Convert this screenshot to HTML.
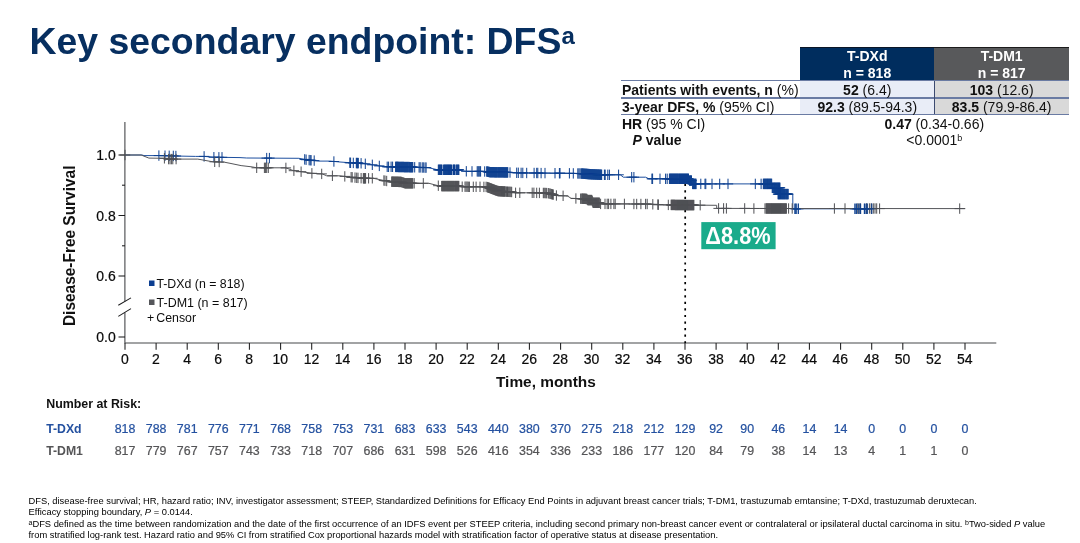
<!DOCTYPE html><html lang="en"><head><meta charset="utf-8"><title>Key secondary endpoint: DFS</title><style>
*{margin:0;padding:0;box-sizing:border-box}
html,body{width:1080px;height:543px;background:#fff;overflow:hidden}
body{font-family:"Liberation Sans",Arial,sans-serif;position:relative;color:#111}
.abs{position:absolute;white-space:nowrap}
h1{position:absolute;left:29.5px;top:18.7px;font-size:37.4px;line-height:44px;font-weight:bold;color:#072f60;white-space:nowrap;letter-spacing:0}
h1 sup{font-size:24px;vertical-align:baseline;position:relative;top:-10px}
.foot{position:absolute;left:28.5px;top:496.1px;font-size:9.34px;line-height:11.25px;color:#000;white-space:nowrap}
.foot sup{font-size:7px;vertical-align:baseline;position:relative;top:-2px}
.c{font-size:14px;line-height:16px;height:16px}
.c sup{font-size:9px;vertical-align:baseline;position:relative;top:-4.5px}

</style></head><body>
<h1>Key secondary endpoint: DFS<sup>a</sup></h1>
<div class="tbl">
<div class="abs" style="left:800.3px;top:47.3px;width:133.9px;height:33.6px;background:#002d5e;border-top:1.2px solid #0b1626"></div>
<div class="abs" style="left:934.2px;top:47.3px;width:134.9px;height:33.6px;background:#58595b;border-top:1.2px solid #1c1c1c"></div>
<div class="abs" style="left:800.3px;top:80.7px;width:133.9px;height:33.6px;background:#e9edf7"></div>
<div class="abs" style="left:934.2px;top:80.7px;width:134.9px;height:33.6px;background:#d9d9d9"></div>
<div class="abs" style="left:621px;top:80.10000000000001px;width:448.2px;height:1.2px;background:#6a7ba3"></div>
<div class="abs" style="left:621px;top:97.4px;width:448.2px;height:1.2px;background:#6a7ba3"></div>
<div class="abs" style="left:621px;top:113.80000000000001px;width:448.2px;height:1.2px;background:#6a7ba3"></div>
<div class="abs" style="left:933.7px;top:80.7px;width:1.1px;height:33.7px;background:#3c4a70"></div>
<div class="abs c" style="left:800.3px;top:48.33px;width:133.9px;text-align:center;color:#fff;"><b>T-DXd</b></div>
<div class="abs c" style="left:800.3px;top:65.03px;width:133.9px;text-align:center;color:#fff;"><b>n = 818</b></div>
<div class="abs c" style="left:934.2px;top:48.33px;width:134.9px;text-align:center;color:#fff;"><b>T-DM1</b></div>
<div class="abs c" style="left:934.2px;top:65.03px;width:134.9px;text-align:center;color:#fff;"><b>n = 817</b></div>
<div class="abs c" style="left:622px;top:81.63px;width:178px;text-align:left;color:#111;"><b>Patients with events, n</b> (%)</div>
<div class="abs c" style="left:800.3px;top:81.63px;width:133.9px;text-align:center;color:#111;"><b>52</b> (6.4)</div>
<div class="abs c" style="left:934.2px;top:81.63px;width:134.9px;text-align:center;color:#111;"><b>103</b> (12.6)</div>
<div class="abs c" style="left:622px;top:98.93px;width:178px;text-align:left;color:#111;"><b>3-year DFS, %</b> (95% CI)</div>
<div class="abs c" style="left:800.3px;top:98.93px;width:133.9px;text-align:center;color:#111;"><b>92.3</b> (89.5-94.3)</div>
<div class="abs c" style="left:934.2px;top:98.93px;width:134.9px;text-align:center;color:#111;"><b>83.5</b> (79.9-86.4)</div>
<div class="abs c" style="left:622px;top:115.63px;width:178px;text-align:left;color:#111;"><b>HR</b> (95 % CI)</div>
<div class="abs c" style="left:800.3px;top:115.63px;width:268px;text-align:center;color:#111;"><b>0.47</b> (0.34-0.66)</div>
<div class="abs c" style="left:632.5px;top:132.33px;width:168px;text-align:left;color:#111;"><b><i>P</i> value</b></div>
<div class="abs c" style="left:800.3px;top:132.33px;width:268px;text-align:center;color:#111;">&lt;0.0001<sup>b</sup></div>
</div>
<svg class="abs" style="left:0;top:0" width="1080" height="543" viewBox="0 0 1080 543" font-family="Liberation Sans, Arial, sans-serif">
<g stroke="#47484b" stroke-width="1.1" fill="none">
<path d="M124.9 122V301.5 M124.9 312.5V343.0 M124.4 343.0H996.3"/>
</g>
<g stroke="#1c1c1e" stroke-width="1.05" fill="none">
<path d="M118.5 155.0H125"/>
<path d="M122 185.2H125"/>
<path d="M118.5 215.5H125"/>
<path d="M122 245.8H125"/>
<path d="M118.5 276.0H125"/>
<path d="M118.5 337H125"/>
<path d="M118.3 305.2L131 297.9 M118.3 316.4L131 308.6"/>
<path d="M125.0 343.0V349.7"/>
<path d="M156.1 343.0V349.7"/>
<path d="M187.2 343.0V349.7"/>
<path d="M218.3 343.0V349.7"/>
<path d="M249.4 343.0V349.7"/>
<path d="M280.6 343.0V349.7"/>
<path d="M311.7 343.0V349.7"/>
<path d="M342.8 343.0V349.7"/>
<path d="M373.9 343.0V349.7"/>
<path d="M405.0 343.0V349.7"/>
<path d="M436.1 343.0V349.7"/>
<path d="M467.2 343.0V349.7"/>
<path d="M498.3 343.0V349.7"/>
<path d="M529.4 343.0V349.7"/>
<path d="M560.6 343.0V349.7"/>
<path d="M591.7 343.0V349.7"/>
<path d="M622.8 343.0V349.7"/>
<path d="M653.9 343.0V349.7"/>
<path d="M685.0 343.0V349.7"/>
<path d="M716.1 343.0V349.7"/>
<path d="M747.2 343.0V349.7"/>
<path d="M778.3 343.0V349.7"/>
<path d="M809.4 343.0V349.7"/>
<path d="M840.6 343.0V349.7"/>
<path d="M871.7 343.0V349.7"/>
<path d="M902.8 343.0V349.7"/>
<path d="M933.9 343.0V349.7"/>
<path d="M965.0 343.0V349.7"/>
</g>
<g font-size="14" fill="#0a0a0a" stroke="#0a0a0a" stroke-width="0.2">
<text transform="translate(115.80 160.20) scale(1.0 1.05)" text-anchor="end">1.0</text>
<text transform="translate(115.80 220.70) scale(1.0 1.05)" text-anchor="end">0.8</text>
<text transform="translate(115.80 281.20) scale(1.0 1.05)" text-anchor="end">0.6</text>
<text transform="translate(115.80 342.20) scale(1.0 1.05)" text-anchor="end">0.0</text>
<text transform="translate(124.80 364.20) scale(1.0 1.04)" text-anchor="middle">0</text>
<text transform="translate(155.91 364.20) scale(1.0 1.04)" text-anchor="middle">2</text>
<text transform="translate(187.02 364.20) scale(1.0 1.04)" text-anchor="middle">4</text>
<text transform="translate(218.13 364.20) scale(1.0 1.04)" text-anchor="middle">6</text>
<text transform="translate(249.24 364.20) scale(1.0 1.04)" text-anchor="middle">8</text>
<text transform="translate(280.36 364.20) scale(1.0 1.04)" text-anchor="middle">10</text>
<text transform="translate(311.47 364.20) scale(1.0 1.04)" text-anchor="middle">12</text>
<text transform="translate(342.58 364.20) scale(1.0 1.04)" text-anchor="middle">14</text>
<text transform="translate(373.69 364.20) scale(1.0 1.04)" text-anchor="middle">16</text>
<text transform="translate(404.80 364.20) scale(1.0 1.04)" text-anchor="middle">18</text>
<text transform="translate(435.91 364.20) scale(1.0 1.04)" text-anchor="middle">20</text>
<text transform="translate(467.02 364.20) scale(1.0 1.04)" text-anchor="middle">22</text>
<text transform="translate(498.13 364.20) scale(1.0 1.04)" text-anchor="middle">24</text>
<text transform="translate(529.24 364.20) scale(1.0 1.04)" text-anchor="middle">26</text>
<text transform="translate(560.36 364.20) scale(1.0 1.04)" text-anchor="middle">28</text>
<text transform="translate(591.47 364.20) scale(1.0 1.04)" text-anchor="middle">30</text>
<text transform="translate(622.58 364.20) scale(1.0 1.04)" text-anchor="middle">32</text>
<text transform="translate(653.69 364.20) scale(1.0 1.04)" text-anchor="middle">34</text>
<text transform="translate(684.80 364.20) scale(1.0 1.04)" text-anchor="middle">36</text>
<text transform="translate(715.91 364.20) scale(1.0 1.04)" text-anchor="middle">38</text>
<text transform="translate(747.02 364.20) scale(1.0 1.04)" text-anchor="middle">40</text>
<text transform="translate(778.13 364.20) scale(1.0 1.04)" text-anchor="middle">42</text>
<text transform="translate(809.24 364.20) scale(1.0 1.04)" text-anchor="middle">44</text>
<text transform="translate(840.36 364.20) scale(1.0 1.04)" text-anchor="middle">46</text>
<text transform="translate(871.47 364.20) scale(1.0 1.04)" text-anchor="middle">48</text>
<text transform="translate(902.58 364.20) scale(1.0 1.04)" text-anchor="middle">50</text>
<text transform="translate(933.69 364.20) scale(1.0 1.04)" text-anchor="middle">52</text>
<text transform="translate(964.80 364.20) scale(1.0 1.04)" text-anchor="middle">54</text>
</g>
<text x="545.9" y="386.5" text-anchor="middle" font-size="15.4" font-weight="bold" fill="#111">Time, months</text>
<text transform="translate(75.2 245.8) rotate(-90) scale(1 1.07)" text-anchor="middle" font-size="15.45" font-weight="bold" fill="#111">Disease-Free Survival</text>
<rect x="149" y="280.5" width="5.5" height="5.5" fill="#0b3e91"/>
<rect x="149" y="299.5" width="5.5" height="5.5" fill="#55565a"/>
<g font-size="12.35" fill="#0d0d0d"><text transform="translate(156.40 287.70) scale(1 1.08)" text-anchor="start">T-DXd (n = 818)</text><text transform="translate(156.60 306.50) scale(1.01 1.08)" text-anchor="start">T-DM1 (n = 817)</text><text transform="translate(147.00 322.00) scale(1.0 1.0)" text-anchor="start">+</text><text transform="translate(156.30 322.30) scale(1.0 1.08)" text-anchor="start">Censor</text></g>
<path d="M685.2 183.7V343" stroke="#000" stroke-width="1.7" stroke-dasharray="2.2 4.36" fill="none"/>
<rect x="701.3" y="222.1" width="74.3" height="27.1" fill="#1aab8b"/>
<text transform="translate(738 244.3) scale(1 1.12)" text-anchor="middle" font-size="21.8" font-weight="bold" fill="#fff">Δ8.8%</text>
<g id="km-curves">
<path d="M125.0 155.0 L142.2 155.0 L144.0 155.6 L158.9 155.6 L180.0 156.1 L195.6 156.4 L204.4 156.4 L213.3 157.2 L240.0 157.6 L246.7 158.0 L298.9 158.3 L307.8 160.0 L318.9 161.1 L330.0 161.1 L340.0 162.0 L351.1 162.8 L362.2 163.3 L373.3 165.0 L384.4 166.7 L395.6 166.9 L412.2 167.2 L426.7 167.6 L428.9 167.8 L437.8 169.8 L458.9 169.8 L463.3 170.9 L466.7 171.3 L486.7 171.5 L490.0 172.2 L507.8 172.4 L520.0 172.9 L570.0 173.3 L582.2 173.6 L590.0 174.2 L602.2 174.8 L620.0 174.8 L620.6 175.0 L623.3 177.2 L645.6 177.2 L648.9 178.8 L688.5 178.8 L689.5 180.6 L691.5 180.6 L692.6 183.9 L771.9 183.9 L771.9 187.8 L776.0 187.8 L776.0 194.1 L792.8 194.1 L792.8 208.8 L872.5 208.8" fill="none" stroke="#1d4f9f" stroke-width="1.0" stroke-linejoin="round"/>
<path d="M158.9 150.4v10.4M153.7 155.6h10.4M165.0 150.5v10.4M159.8 155.7h10.4M169.2 150.6v10.4M164.0 155.8h10.4M173.3 150.7v10.4M168.1 155.9h10.4M175.9 150.8v10.4M170.7 156.0h10.4M204.1 151.2v10.4M198.9 156.4h10.4M213.9 152.0v10.4M208.7 157.2h10.4M218.9 152.1v10.4M213.7 157.3h10.4M222.0 152.1v10.4M216.8 157.3h10.4M266.7 152.9v10.4M261.5 158.1h10.4M269.4 152.9v10.4M264.2 158.1h10.4M304.7 154.2v10.4M299.5 159.4h10.4M306.1 154.5v10.4M300.9 159.7h10.4M309.1 154.9v10.4M303.9 160.1h10.4M310.2 155.0v10.4M305.0 160.2h10.4M311.1 155.1v10.4M305.9 160.3h10.4M314.2 155.4v10.4M309.0 160.6h10.4M333.9 156.3v10.4M328.7 161.5h10.4M349.8 157.5v10.4M344.6 162.7h10.4M350.6 157.6v10.4M345.4 162.8h10.4M353.3 157.7v10.4M348.1 162.9h10.4M356.3 157.8v10.4M351.1 163.0h10.4M356.8 157.9v10.4M351.6 163.1h10.4M357.3 157.9v10.4M352.1 163.1h10.4M357.8 157.9v10.4M352.6 163.1h10.4M358.3 157.9v10.4M353.1 163.1h10.4M361.1 158.1v10.4M355.9 163.3h10.4M365.3 158.6v10.4M360.1 163.8h10.4M372.3 159.6v10.4M367.1 164.8h10.4M379.3 160.7v10.4M374.1 165.9h10.4M387.2 161.6v10.4M382.0 166.8h10.4M388.6 161.6v10.4M383.4 166.8h10.4M391.1 161.6v10.4M385.9 166.8h10.4M392.6 161.6v10.4M387.4 166.8h10.4M395.6 161.7v10.4M390.4 166.9h10.4M396.1 161.7v10.4M390.9 166.9h10.4M396.6 161.7v10.4M391.4 166.9h10.4M397.1 161.7v10.4M391.9 166.9h10.4M397.6 161.7v10.4M392.4 166.9h10.4M398.1 161.7v10.4M392.9 166.9h10.4M398.6 161.8v10.4M393.4 167.0h10.4M399.1 161.8v10.4M393.9 167.0h10.4M399.6 161.8v10.4M394.4 167.0h10.4M400.2 161.8v10.4M395.0 167.0h10.4M400.7 161.8v10.4M395.5 167.0h10.4M401.2 161.8v10.4M396.0 167.0h10.4M401.7 161.8v10.4M396.5 167.0h10.4M402.2 161.8v10.4M397.0 167.0h10.4M402.7 161.8v10.4M397.5 167.0h10.4M403.2 161.8v10.4M398.0 167.0h10.4M403.7 161.8v10.4M398.5 167.0h10.4M404.2 161.9v10.4M399.0 167.1h10.4M404.7 161.9v10.4M399.5 167.1h10.4M405.2 161.9v10.4M400.0 167.1h10.4M405.7 161.9v10.4M400.5 167.1h10.4M406.2 161.9v10.4M401.0 167.1h10.4M406.7 161.9v10.4M401.5 167.1h10.4M407.2 161.9v10.4M402.0 167.1h10.4M407.7 161.9v10.4M402.5 167.1h10.4M408.2 161.9v10.4M403.0 167.1h10.4M408.8 161.9v10.4M403.6 167.1h10.4M409.3 161.9v10.4M404.1 167.1h10.4M409.8 162.0v10.4M404.6 167.2h10.4M410.3 162.0v10.4M405.1 167.2h10.4M410.8 162.0v10.4M405.6 167.2h10.4M411.3 162.0v10.4M406.1 167.2h10.4M411.8 162.0v10.4M406.6 167.2h10.4M412.3 162.0v10.4M407.1 167.2h10.4M412.8 162.0v10.4M407.6 167.2h10.4M414.7 162.1v10.4M409.5 167.3h10.4M419.1 162.2v10.4M413.9 167.4h10.4M420.2 162.2v10.4M415.0 167.4h10.4M422.2 162.3v10.4M417.0 167.5h10.4M423.3 162.3v10.4M418.1 167.5h10.4M425.0 162.4v10.4M419.8 167.6h10.4M426.1 162.4v10.4M420.9 167.6h10.4M438.3 164.6v10.4M433.1 169.8h10.4M438.8 164.6v10.4M433.6 169.8h10.4M439.4 164.6v10.4M434.2 169.8h10.4M439.9 164.6v10.4M434.7 169.8h10.4M440.4 164.6v10.4M435.2 169.8h10.4M440.9 164.6v10.4M435.7 169.8h10.4M441.5 164.6v10.4M436.3 169.8h10.4M442.0 164.6v10.4M436.8 169.8h10.4M443.6 164.6v10.4M438.4 169.8h10.4M444.1 164.6v10.4M438.9 169.8h10.4M444.6 164.6v10.4M439.4 169.8h10.4M445.1 164.6v10.4M439.9 169.8h10.4M445.6 164.6v10.4M440.4 169.8h10.4M446.1 164.6v10.4M440.9 169.8h10.4M446.6 164.6v10.4M441.4 169.8h10.4M447.1 164.6v10.4M441.9 169.8h10.4M447.6 164.6v10.4M442.4 169.8h10.4M448.0 164.6v10.4M442.8 169.8h10.4M448.5 164.6v10.4M443.3 169.8h10.4M449.0 164.6v10.4M443.8 169.8h10.4M449.5 164.6v10.4M444.3 169.8h10.4M450.0 164.6v10.4M444.8 169.8h10.4M450.5 164.6v10.4M445.3 169.8h10.4M451.0 164.6v10.4M445.8 169.8h10.4M451.5 164.6v10.4M446.3 169.8h10.4M453.0 164.6v10.4M447.8 169.8h10.4M453.5 164.6v10.4M448.3 169.8h10.4M454.0 164.6v10.4M448.8 169.8h10.4M454.5 164.6v10.4M449.3 169.8h10.4M455.0 164.6v10.4M449.8 169.8h10.4M456.3 164.6v10.4M451.1 169.8h10.4M456.8 164.6v10.4M451.6 169.8h10.4M457.3 164.6v10.4M452.1 169.8h10.4M457.9 164.6v10.4M452.7 169.8h10.4M458.4 164.6v10.4M453.2 169.8h10.4M458.9 164.6v10.4M453.7 169.8h10.4M466.3 166.1v10.4M461.1 171.3h10.4M472.0 166.2v10.4M466.8 171.4h10.4M477.2 166.2v10.4M472.0 171.4h10.4M478.1 166.2v10.4M472.9 171.4h10.4M478.9 166.2v10.4M473.7 171.4h10.4M479.8 166.2v10.4M474.6 171.4h10.4M480.6 166.2v10.4M475.4 171.4h10.4M484.7 166.3v10.4M479.5 171.5h10.4M486.7 166.3v10.4M481.5 171.5h10.4M487.2 166.4v10.4M482.0 171.6h10.4M487.7 166.5v10.4M482.5 171.7h10.4M488.2 166.6v10.4M483.0 171.8h10.4M488.7 166.7v10.4M483.5 171.9h10.4M489.2 166.8v10.4M484.0 172.0h10.4M489.7 166.9v10.4M484.5 172.1h10.4M490.2 167.0v10.4M485.0 172.2h10.4M490.7 167.0v10.4M485.5 172.2h10.4M491.2 167.0v10.4M486.0 172.2h10.4M491.7 167.0v10.4M486.5 172.2h10.4M492.2 167.0v10.4M487.0 172.2h10.4M492.7 167.0v10.4M487.5 172.2h10.4M493.2 167.0v10.4M488.0 172.2h10.4M493.7 167.0v10.4M488.5 172.2h10.4M494.2 167.0v10.4M489.0 172.2h10.4M494.7 167.1v10.4M489.5 172.3h10.4M495.2 167.1v10.4M490.0 172.3h10.4M495.7 167.1v10.4M490.5 172.3h10.4M496.2 167.1v10.4M491.0 172.3h10.4M496.7 167.1v10.4M491.5 172.3h10.4M497.2 167.1v10.4M492.1 172.3h10.4M497.8 167.1v10.4M492.6 172.3h10.4M498.3 167.1v10.4M493.1 172.3h10.4M498.8 167.1v10.4M493.6 172.3h10.4M499.3 167.1v10.4M494.1 172.3h10.4M499.8 167.1v10.4M494.6 172.3h10.4M500.3 167.1v10.4M495.1 172.3h10.4M500.8 167.1v10.4M495.6 172.3h10.4M501.3 167.1v10.4M496.1 172.3h10.4M501.8 167.1v10.4M496.6 172.3h10.4M502.3 167.1v10.4M497.1 172.3h10.4M502.8 167.1v10.4M497.6 172.3h10.4M503.3 167.1v10.4M498.1 172.3h10.4M503.8 167.2v10.4M498.6 172.4h10.4M504.3 167.2v10.4M499.1 172.4h10.4M504.8 167.2v10.4M499.6 172.4h10.4M505.3 167.2v10.4M500.1 172.4h10.4M505.8 167.2v10.4M500.6 172.4h10.4M506.3 167.2v10.4M501.1 172.4h10.4M506.8 167.2v10.4M501.6 172.4h10.4M507.3 167.2v10.4M502.1 172.4h10.4M507.8 167.2v10.4M502.6 172.4h10.4M510.0 167.3v10.4M504.8 172.5h10.4M516.7 167.6v10.4M511.5 172.8h10.4M518.3 167.6v10.4M513.1 172.8h10.4M521.1 167.7v10.4M515.9 172.9h10.4M522.8 167.7v10.4M517.6 172.9h10.4M526.7 167.8v10.4M521.5 173.0h10.4M534.1 167.8v10.4M528.9 173.0h10.4M536.7 167.8v10.4M531.5 173.0h10.4M537.8 167.8v10.4M532.6 173.0h10.4M541.1 167.9v10.4M535.9 173.1h10.4M545.0 167.9v10.4M539.8 173.1h10.4M555.0 168.0v10.4M549.8 173.2h10.4M559.4 168.0v10.4M554.2 173.2h10.4M569.4 168.1v10.4M564.2 173.3h10.4M560.0 168.0v10.4M554.8 173.2h10.4M573.3 168.2v10.4M568.1 173.4h10.4M577.8 168.3v10.4M572.6 173.5h10.4M578.9 168.3v10.4M573.7 173.5h10.4M580.0 168.3v10.4M574.8 173.5h10.4M581.1 168.4v10.4M575.9 173.6h10.4M581.7 168.4v10.4M576.5 173.6h10.4M582.2 168.4v10.4M577.0 173.6h10.4M582.7 168.4v10.4M577.5 173.6h10.4M583.2 168.5v10.4M578.0 173.7h10.4M583.7 168.5v10.4M578.5 173.7h10.4M584.2 168.6v10.4M579.0 173.8h10.4M584.7 168.6v10.4M579.5 173.8h10.4M585.2 168.6v10.4M580.0 173.8h10.4M585.7 168.7v10.4M580.5 173.9h10.4M586.2 168.7v10.4M581.0 173.9h10.4M586.7 168.7v10.4M581.5 173.9h10.4M587.2 168.8v10.4M582.0 174.0h10.4M587.7 168.8v10.4M582.5 174.0h10.4M588.2 168.9v10.4M583.0 174.1h10.4M588.7 168.9v10.4M583.5 174.1h10.4M589.2 168.9v10.4M584.0 174.1h10.4M589.7 169.0v10.4M584.5 174.2h10.4M590.2 169.0v10.4M585.0 174.2h10.4M590.7 169.0v10.4M585.5 174.2h10.4M591.2 169.1v10.4M586.0 174.3h10.4M591.7 169.1v10.4M586.5 174.3h10.4M592.2 169.1v10.4M587.0 174.3h10.4M592.7 169.1v10.4M587.5 174.3h10.4M593.2 169.2v10.4M588.0 174.4h10.4M593.7 169.2v10.4M588.5 174.4h10.4M594.2 169.2v10.4M589.0 174.4h10.4M594.7 169.2v10.4M589.5 174.4h10.4M595.2 169.3v10.4M590.0 174.5h10.4M595.7 169.3v10.4M590.5 174.5h10.4M596.2 169.3v10.4M591.0 174.5h10.4M596.7 169.3v10.4M591.5 174.5h10.4M597.2 169.4v10.4M592.0 174.6h10.4M597.7 169.4v10.4M592.5 174.6h10.4M598.2 169.4v10.4M593.0 174.6h10.4M598.7 169.4v10.4M593.5 174.6h10.4M599.2 169.5v10.4M594.0 174.7h10.4M599.7 169.5v10.4M594.5 174.7h10.4M600.2 169.5v10.4M595.0 174.7h10.4M600.7 169.5v10.4M595.5 174.7h10.4M601.2 169.6v10.4M596.0 174.8h10.4M601.7 169.6v10.4M596.5 174.8h10.4M604.4 169.6v10.4M599.2 174.8h10.4M605.2 169.6v10.4M600.0 174.8h10.4M607.8 169.6v10.4M602.6 174.8h10.4M609.4 169.6v10.4M604.2 174.8h10.4M618.6 169.6v10.4M613.4 174.8h10.4M631.7 172.0v10.4M626.5 177.2h10.4M633.9 172.0v10.4M628.7 177.2h10.4M651.9 173.6v10.4M646.7 178.8h10.4M652.6 173.6v10.4M647.4 178.8h10.4M660.0 173.6v10.4M654.8 178.8h10.4M665.6 173.6v10.4M660.4 178.8h10.4M667.2 173.6v10.4M662.0 178.8h10.4M669.4 173.6v10.4M664.2 178.8h10.4M669.9 173.6v10.4M664.7 178.8h10.4M670.4 173.6v10.4M665.2 178.8h10.4M670.9 173.6v10.4M665.7 178.8h10.4M671.4 173.6v10.4M666.2 178.8h10.4M671.9 173.6v10.4M666.7 178.8h10.4M672.4 173.6v10.4M667.2 178.8h10.4M672.9 173.6v10.4M667.7 178.8h10.4M673.4 173.6v10.4M668.2 178.8h10.4M673.9 173.6v10.4M668.7 178.8h10.4M674.4 173.6v10.4M669.2 178.8h10.4M674.9 173.6v10.4M669.7 178.8h10.4M675.4 173.6v10.4M670.2 178.8h10.4M675.9 173.6v10.4M670.7 178.8h10.4M676.4 173.6v10.4M671.2 178.8h10.4M676.9 173.6v10.4M671.7 178.8h10.4M677.4 173.6v10.4M672.2 178.8h10.4M677.9 173.6v10.4M672.7 178.8h10.4M678.4 173.6v10.4M673.2 178.8h10.4M679.0 173.6v10.4M673.8 178.8h10.4M679.5 173.6v10.4M674.3 178.8h10.4M680.0 173.6v10.4M674.8 178.8h10.4M680.5 173.6v10.4M675.3 178.8h10.4M681.0 173.6v10.4M675.8 178.8h10.4M681.5 173.6v10.4M676.3 178.8h10.4M682.0 173.6v10.4M676.8 178.8h10.4M682.5 173.6v10.4M677.3 178.8h10.4M683.0 173.6v10.4M677.8 178.8h10.4M683.5 173.6v10.4M678.3 178.8h10.4M684.0 173.6v10.4M678.8 178.8h10.4M684.5 173.6v10.4M679.3 178.8h10.4M685.0 173.6v10.4M679.8 178.8h10.4M685.5 173.6v10.4M680.3 178.8h10.4M686.0 173.6v10.4M680.8 178.8h10.4M686.5 173.6v10.4M681.3 178.8h10.4M687.0 173.6v10.4M681.8 178.8h10.4M687.5 173.6v10.4M682.3 178.8h10.4M688.0 173.6v10.4M682.8 178.8h10.4M688.5 173.6v10.4M683.3 178.8h10.4M689.5 175.4v10.4M684.3 180.6h10.4M690.0 175.4v10.4M684.8 180.6h10.4M690.5 175.4v10.4M685.3 180.6h10.4M691.0 175.4v10.4M685.8 180.6h10.4M691.5 175.4v10.4M686.3 180.6h10.4M692.6 178.7v10.4M687.4 183.9h10.4M693.1 178.7v10.4M687.9 183.9h10.4M693.6 178.7v10.4M688.4 183.9h10.4M694.1 178.7v10.4M688.9 183.9h10.4M694.6 178.7v10.4M689.4 183.9h10.4M695.1 178.7v10.4M689.9 183.9h10.4M695.6 178.7v10.4M690.4 183.9h10.4M696.1 178.7v10.4M690.9 183.9h10.4M700.8 178.7v10.4M695.6 183.9h10.4M705.0 178.7v10.4M699.8 183.9h10.4M705.8 178.7v10.4M700.6 183.9h10.4M712.0 178.7v10.4M706.8 183.9h10.4M719.7 178.7v10.4M714.5 183.9h10.4M728.0 178.7v10.4M722.8 183.9h10.4M755.3 178.7v10.4M750.1 183.9h10.4M761.1 178.7v10.4M755.9 183.9h10.4M763.3 178.7v10.4M758.1 183.9h10.4M763.8 178.7v10.4M758.6 183.9h10.4M764.3 178.7v10.4M759.1 183.9h10.4M764.8 178.7v10.4M759.6 183.9h10.4M765.3 178.7v10.4M760.1 183.9h10.4M765.8 178.7v10.4M760.6 183.9h10.4M766.3 178.7v10.4M761.1 183.9h10.4M766.8 178.7v10.4M761.6 183.9h10.4M767.3 178.7v10.4M762.1 183.9h10.4M767.7 178.7v10.4M762.5 183.9h10.4M768.2 178.7v10.4M763.0 183.9h10.4M768.7 178.7v10.4M763.5 183.9h10.4M769.2 178.7v10.4M764.0 183.9h10.4M769.7 178.7v10.4M764.5 183.9h10.4M770.2 178.7v10.4M765.0 183.9h10.4M770.7 178.7v10.4M765.5 183.9h10.4M771.2 178.7v10.4M766.0 183.9h10.4M771.7 178.7v10.4M766.5 183.9h10.4M772.2 182.6v10.4M767.0 187.8h10.4M772.7 182.6v10.4M767.5 187.8h10.4M773.2 182.6v10.4M768.0 187.8h10.4M773.7 182.6v10.4M768.5 187.8h10.4M774.2 182.6v10.4M769.0 187.8h10.4M774.6 182.6v10.4M769.4 187.8h10.4M775.1 182.6v10.4M769.9 187.8h10.4M775.6 182.6v10.4M770.4 187.8h10.4M776.1 182.6v10.4M770.9 187.8h10.4M776.6 182.6v10.4M771.4 187.8h10.4M777.1 182.6v10.4M771.9 187.8h10.4M777.6 182.6v10.4M772.4 187.8h10.4M778.0 182.6v10.4M772.8 187.8h10.4M778.5 182.6v10.4M773.3 187.8h10.4M779.0 182.6v10.4M773.8 187.8h10.4M779.5 182.6v10.4M774.3 187.8h10.4M780.0 182.6v10.4M774.8 187.8h10.4M778.0 188.9v10.4M772.8 194.1h10.4M778.5 188.9v10.4M773.3 194.1h10.4M779.0 188.9v10.4M773.8 194.1h10.4M779.5 188.9v10.4M774.3 194.1h10.4M780.0 188.9v10.4M774.8 194.1h10.4M780.5 188.9v10.4M775.3 194.1h10.4M781.1 188.9v10.4M775.9 194.1h10.4M781.6 188.9v10.4M776.4 194.1h10.4M782.1 188.9v10.4M776.9 194.1h10.4M782.6 188.9v10.4M777.4 194.1h10.4M783.1 188.9v10.4M777.9 194.1h10.4M783.6 188.9v10.4M778.4 194.1h10.4M784.1 188.9v10.4M778.9 194.1h10.4M784.6 188.9v10.4M779.4 194.1h10.4M785.1 188.9v10.4M779.9 194.1h10.4M785.7 188.9v10.4M780.5 194.1h10.4M786.2 188.9v10.4M781.0 194.1h10.4M786.7 188.9v10.4M781.5 194.1h10.4M787.2 188.9v10.4M782.0 194.1h10.4M787.7 188.9v10.4M782.5 194.1h10.4M788.2 188.9v10.4M783.0 194.1h10.4M795.0 203.6v10.4M789.8 208.8h10.4M796.1 203.6v10.4M790.9 208.8h10.4M798.3 203.6v10.4M793.1 208.8h10.4M855.0 203.6v10.4M849.8 208.8h10.4M856.7 203.6v10.4M851.5 208.8h10.4M858.9 203.6v10.4M853.7 208.8h10.4M860.6 203.6v10.4M855.4 208.8h10.4M864.4 203.6v10.4M859.2 208.8h10.4M866.1 203.6v10.4M860.9 208.8h10.4M867.2 203.6v10.4M862.0 208.8h10.4M871.7 203.6v10.4M866.5 208.8h10.4" fill="none" stroke="#0c3f8f" stroke-width="1.0"/>
<path d="M125.0 155.0 L141.1 155.0 L148.9 158.1 L164.4 158.3 L167.8 159.1 L197.8 159.1 L212.2 161.7 L224.4 162.2 L230.0 163.3 L241.1 165.6 L252.2 166.9 L256.7 167.8 L285.6 167.8 L293.3 170.6 L301.1 171.7 L312.2 173.3 L322.2 173.9 L326.7 175.8 L340.0 175.8 L351.1 177.2 L362.2 178.3 L373.3 178.3 L384.4 180.6 L391.1 181.7 L401.1 181.9 L405.0 183.3 L428.9 183.3 L437.8 185.6 L440.0 186.1 L458.9 186.1 L461.1 186.7 L486.7 186.9 L497.8 191.1 L512.2 192.0 L515.6 192.8 L532.2 192.8 L547.8 193.1 L556.7 195.6 L565.6 195.9 L567.8 196.2 L571.1 198.3 L586.7 198.9 L587.5 200.1 L592.0 200.1 L593.0 202.8 L599.4 202.8 L600.5 203.9 L648.9 204.0 L660.0 204.8 L680.0 205.0 L716.7 205.3 L716.7 208.4 L790.0 208.5 L965.3 208.6" fill="none" stroke="#55565a" stroke-width="1.0" stroke-linejoin="round"/>
<path d="M125.0 149.8v10.4M119.8 155.0h10.4M164.4 153.1v10.4M159.2 158.3h10.4M168.6 153.9v10.4M163.4 159.1h10.4M170.0 153.9v10.4M164.8 159.1h10.4M171.4 153.9v10.4M166.2 159.1h10.4M172.8 153.9v10.4M167.6 159.1h10.4M176.1 153.9v10.4M170.9 159.1h10.4M214.7 156.6v10.4M209.5 161.8h10.4M219.2 156.8v10.4M214.0 162.0h10.4M256.7 162.6v10.4M251.5 167.8h10.4M264.4 162.6v10.4M259.2 167.8h10.4M265.6 162.6v10.4M260.4 167.8h10.4M266.7 162.6v10.4M261.5 167.8h10.4M268.3 162.6v10.4M263.1 167.8h10.4M285.9 162.7v10.4M280.7 167.9h10.4M293.9 165.5v10.4M288.7 170.7h10.4M301.1 166.5v10.4M295.9 171.7h10.4M311.9 168.1v10.4M306.7 173.3h10.4M321.7 168.7v10.4M316.5 173.9h10.4M332.4 170.6v10.4M327.2 175.8h10.4M344.8 171.2v10.4M339.6 176.4h10.4M351.1 172.0v10.4M345.9 177.2h10.4M352.2 172.1v10.4M347.0 177.3h10.4M355.0 172.4v10.4M349.8 177.6h10.4M356.7 172.6v10.4M351.5 177.8h10.4M358.0 172.7v10.4M352.8 177.9h10.4M361.1 173.0v10.4M355.9 178.2h10.4M363.3 173.1v10.4M358.1 178.3h10.4M363.8 173.1v10.4M358.6 178.3h10.4M364.2 173.1v10.4M359.0 178.3h10.4M364.7 173.1v10.4M359.5 178.3h10.4M365.1 173.1v10.4M359.9 178.3h10.4M365.6 173.1v10.4M360.4 178.3h10.4M368.6 173.1v10.4M363.4 178.3h10.4M372.3 173.1v10.4M367.1 178.3h10.4M383.9 175.3v10.4M378.7 180.5h10.4M385.0 175.5v10.4M379.8 180.7h10.4M386.7 175.8v10.4M381.5 181.0h10.4M391.7 176.5v10.4M386.5 181.7h10.4M392.2 176.5v10.4M387.0 181.7h10.4M392.7 176.5v10.4M387.5 181.7h10.4M393.2 176.5v10.4M388.0 181.7h10.4M393.7 176.6v10.4M388.5 181.8h10.4M394.2 176.6v10.4M389.0 181.8h10.4M394.7 176.6v10.4M389.5 181.8h10.4M395.2 176.6v10.4M390.0 181.8h10.4M395.7 176.6v10.4M390.5 181.8h10.4M396.2 176.6v10.4M391.0 181.8h10.4M396.7 176.6v10.4M391.5 181.8h10.4M397.2 176.6v10.4M392.0 181.8h10.4M397.7 176.6v10.4M392.5 181.8h10.4M398.2 176.6v10.4M393.0 181.8h10.4M398.7 176.7v10.4M393.5 181.9h10.4M399.2 176.7v10.4M394.0 181.9h10.4M399.7 176.7v10.4M394.5 181.9h10.4M400.2 176.7v10.4M395.0 181.9h10.4M400.7 176.7v10.4M395.5 181.9h10.4M401.2 176.8v10.4M396.0 182.0h10.4M401.7 176.9v10.4M396.5 182.1h10.4M402.2 177.1v10.4M397.1 182.3h10.4M402.8 177.3v10.4M397.6 182.5h10.4M403.3 177.5v10.4M398.1 182.7h10.4M403.8 177.7v10.4M398.6 182.9h10.4M404.3 177.8v10.4M399.1 183.0h10.4M404.8 178.0v10.4M399.6 183.2h10.4M405.3 178.1v10.4M400.1 183.3h10.4M405.8 178.1v10.4M400.6 183.3h10.4M406.3 178.1v10.4M401.1 183.3h10.4M406.8 178.1v10.4M401.6 183.3h10.4M407.3 178.1v10.4M402.1 183.3h10.4M407.8 178.1v10.4M402.6 183.3h10.4M408.3 178.1v10.4M403.1 183.3h10.4M408.8 178.1v10.4M403.6 183.3h10.4M409.3 178.1v10.4M404.1 183.3h10.4M409.8 178.1v10.4M404.6 183.3h10.4M410.3 178.1v10.4M405.1 183.3h10.4M410.8 178.1v10.4M405.6 183.3h10.4M411.3 178.1v10.4M406.1 183.3h10.4M411.8 178.1v10.4M406.6 183.3h10.4M412.3 178.1v10.4M407.1 183.3h10.4M412.8 178.1v10.4M407.6 183.3h10.4M414.2 178.1v10.4M409.0 183.3h10.4M423.3 178.1v10.4M418.1 183.3h10.4M438.3 180.5v10.4M433.1 185.7h10.4M441.7 180.9v10.4M436.5 186.1h10.4M442.2 180.9v10.4M437.0 186.1h10.4M442.7 180.9v10.4M437.5 186.1h10.4M443.2 180.9v10.4M438.0 186.1h10.4M443.7 180.9v10.4M438.5 186.1h10.4M444.2 180.9v10.4M439.0 186.1h10.4M444.7 180.9v10.4M439.5 186.1h10.4M445.2 180.9v10.4M440.0 186.1h10.4M445.7 180.9v10.4M440.5 186.1h10.4M446.3 180.9v10.4M441.1 186.1h10.4M446.8 180.9v10.4M441.6 186.1h10.4M447.3 180.9v10.4M442.1 186.1h10.4M447.8 180.9v10.4M442.6 186.1h10.4M448.3 180.9v10.4M443.1 186.1h10.4M448.8 180.9v10.4M443.6 186.1h10.4M449.3 180.9v10.4M444.1 186.1h10.4M449.8 180.9v10.4M444.6 186.1h10.4M450.3 180.9v10.4M445.1 186.1h10.4M450.8 180.9v10.4M445.6 186.1h10.4M451.3 180.9v10.4M446.1 186.1h10.4M451.8 180.9v10.4M446.6 186.1h10.4M452.3 180.9v10.4M447.1 186.1h10.4M452.8 180.9v10.4M447.6 186.1h10.4M453.3 180.9v10.4M448.1 186.1h10.4M453.8 180.9v10.4M448.6 186.1h10.4M454.3 180.9v10.4M449.1 186.1h10.4M454.9 180.9v10.4M449.7 186.1h10.4M455.4 180.9v10.4M450.2 186.1h10.4M455.9 180.9v10.4M450.7 186.1h10.4M456.4 180.9v10.4M451.2 186.1h10.4M456.9 180.9v10.4M451.7 186.1h10.4M457.4 180.9v10.4M452.2 186.1h10.4M457.9 180.9v10.4M452.7 186.1h10.4M458.4 180.9v10.4M453.2 186.1h10.4M458.9 180.9v10.4M453.7 186.1h10.4M462.2 181.5v10.4M457.0 186.7h10.4M465.0 181.5v10.4M459.8 186.7h10.4M466.1 181.5v10.4M460.9 186.7h10.4M467.2 181.5v10.4M462.0 186.7h10.4M468.3 181.6v10.4M463.1 186.8h10.4M469.4 181.6v10.4M464.2 186.8h10.4M473.3 181.6v10.4M468.1 186.8h10.4M476.1 181.6v10.4M470.9 186.8h10.4M480.0 181.6v10.4M474.8 186.8h10.4M483.9 181.7v10.4M478.7 186.9h10.4M486.1 181.7v10.4M480.9 186.9h10.4M487.2 181.9v10.4M482.0 187.1h10.4M487.7 182.1v10.4M482.5 187.3h10.4M488.2 182.3v10.4M483.0 187.5h10.4M488.7 182.5v10.4M483.5 187.7h10.4M489.2 182.6v10.4M484.0 187.8h10.4M489.7 182.8v10.4M484.5 188.0h10.4M490.2 183.0v10.4M485.0 188.2h10.4M490.7 183.2v10.4M485.5 188.4h10.4M491.2 183.4v10.4M486.0 188.6h10.4M491.6 183.6v10.4M486.4 188.8h10.4M492.1 183.8v10.4M486.9 189.0h10.4M492.6 183.9v10.4M487.4 189.1h10.4M493.1 184.1v10.4M487.9 189.3h10.4M493.6 184.3v10.4M488.4 189.5h10.4M494.1 184.5v10.4M488.9 189.7h10.4M494.6 184.7v10.4M489.4 189.9h10.4M495.1 184.9v10.4M489.9 190.1h10.4M495.6 185.1v10.4M490.4 190.3h10.4M496.1 185.3v10.4M490.9 190.5h10.4M496.6 185.4v10.4M491.4 190.6h10.4M497.1 185.6v10.4M491.9 190.8h10.4M497.6 185.8v10.4M492.4 191.0h10.4M498.1 185.9v10.4M492.9 191.1h10.4M498.6 185.9v10.4M493.4 191.1h10.4M499.1 186.0v10.4M493.9 191.2h10.4M499.6 186.0v10.4M494.4 191.2h10.4M500.1 186.0v10.4M494.9 191.2h10.4M500.6 186.1v10.4M495.4 191.3h10.4M501.0 186.1v10.4M495.8 191.3h10.4M501.5 186.1v10.4M496.3 191.3h10.4M502.0 186.2v10.4M496.8 191.4h10.4M502.5 186.2v10.4M497.3 191.4h10.4M503.0 186.2v10.4M497.8 191.4h10.4M503.5 186.3v10.4M498.3 191.5h10.4M504.0 186.3v10.4M498.8 191.5h10.4M504.5 186.3v10.4M499.3 191.5h10.4M505.0 186.3v10.4M499.8 191.5h10.4M505.8 186.4v10.4M500.6 191.6h10.4M506.6 186.5v10.4M501.4 191.7h10.4M507.5 186.5v10.4M502.3 191.7h10.4M508.3 186.6v10.4M503.1 191.8h10.4M509.2 186.6v10.4M504.0 191.8h10.4M510.0 186.7v10.4M504.8 191.9h10.4M510.9 186.7v10.4M505.7 191.9h10.4M511.7 186.8v10.4M506.5 192.0h10.4M515.6 187.6v10.4M510.4 192.8h10.4M519.8 187.6v10.4M514.6 192.8h10.4M532.2 187.6v10.4M527.0 192.8h10.4M533.9 187.6v10.4M528.7 192.8h10.4M536.7 187.7v10.4M531.5 192.9h10.4M539.4 187.7v10.4M534.2 192.9h10.4M543.3 187.8v10.4M538.1 193.0h10.4M544.1 187.8v10.4M538.9 193.0h10.4M545.0 187.8v10.4M539.8 193.0h10.4M545.9 187.9v10.4M540.6 193.1h10.4M546.7 187.9v10.4M541.5 193.1h10.4M548.3 188.0v10.4M543.1 193.2h10.4M549.1 188.3v10.4M543.9 193.5h10.4M550.0 188.5v10.4M544.8 193.7h10.4M550.8 188.7v10.4M545.6 193.9h10.4M551.6 189.0v10.4M546.4 194.2h10.4M552.5 189.2v10.4M547.3 194.4h10.4M553.3 189.4v10.4M548.1 194.6h10.4M556.4 190.3v10.4M551.2 195.5h10.4M563.1 190.6v10.4M557.9 195.8h10.4M575.9 193.3v10.4M570.7 198.5h10.4M580.6 193.5v10.4M575.4 198.7h10.4M581.7 193.5v10.4M576.5 198.7h10.4M582.2 193.5v10.4M577.0 198.7h10.4M582.7 193.5v10.4M577.5 198.7h10.4M583.2 193.6v10.4M578.0 198.8h10.4M583.7 193.6v10.4M578.5 198.8h10.4M584.2 193.6v10.4M579.0 198.8h10.4M584.7 193.6v10.4M579.5 198.8h10.4M585.2 193.6v10.4M580.0 198.8h10.4M585.7 193.7v10.4M580.5 198.9h10.4M586.3 193.7v10.4M581.1 198.9h10.4M586.8 193.8v10.4M581.6 199.0h10.4M587.3 194.5v10.4M582.1 199.7h10.4M587.8 194.9v10.4M582.6 200.1h10.4M588.3 194.9v10.4M583.1 200.1h10.4M588.8 194.9v10.4M583.6 200.1h10.4M589.3 194.9v10.4M584.1 200.1h10.4M589.8 194.9v10.4M584.6 200.1h10.4M590.3 194.9v10.4M585.1 200.1h10.4M590.8 194.9v10.4M585.6 200.1h10.4M591.3 194.9v10.4M586.1 200.1h10.4M591.8 194.9v10.4M586.6 200.1h10.4M592.3 195.8v10.4M587.1 201.0h10.4M592.8 197.1v10.4M587.6 202.3h10.4M593.3 197.6v10.4M588.1 202.8h10.4M593.8 197.6v10.4M588.6 202.8h10.4M594.3 197.6v10.4M589.1 202.8h10.4M594.8 197.6v10.4M589.6 202.8h10.4M595.4 197.6v10.4M590.2 202.8h10.4M595.9 197.6v10.4M590.7 202.8h10.4M596.4 197.6v10.4M591.2 202.8h10.4M596.9 197.6v10.4M591.7 202.8h10.4M597.4 197.6v10.4M592.2 202.8h10.4M597.9 197.6v10.4M592.7 202.8h10.4M598.4 197.6v10.4M593.2 202.8h10.4M598.9 197.6v10.4M593.7 202.8h10.4M599.4 197.6v10.4M594.2 202.8h10.4M600.6 198.7v10.4M595.4 203.9h10.4M605.0 198.7v10.4M599.8 203.9h10.4M607.2 198.7v10.4M602.0 203.9h10.4M608.6 198.7v10.4M603.4 203.9h10.4M610.9 198.7v10.4M605.7 203.9h10.4M613.9 198.7v10.4M608.7 203.9h10.4M615.2 198.7v10.4M610.0 203.9h10.4M624.4 198.7v10.4M619.2 203.9h10.4M633.9 198.8v10.4M628.7 204.0h10.4M636.7 198.8v10.4M631.5 204.0h10.4M640.9 198.8v10.4M635.7 204.0h10.4M645.6 198.8v10.4M640.4 204.0h10.4M647.2 198.8v10.4M642.0 204.0h10.4M652.8 199.1v10.4M647.6 204.3h10.4M657.8 199.4v10.4M652.6 204.6h10.4M658.4 199.5v10.4M653.2 204.7h10.4M668.3 199.7v10.4M663.1 204.9h10.4M671.1 199.7v10.4M665.9 204.9h10.4M671.6 199.7v10.4M666.4 204.9h10.4M672.1 199.7v10.4M666.9 204.9h10.4M672.6 199.7v10.4M667.4 204.9h10.4M673.1 199.7v10.4M667.9 204.9h10.4M673.6 199.7v10.4M668.4 204.9h10.4M674.1 199.7v10.4M668.9 204.9h10.4M674.6 199.7v10.4M669.4 204.9h10.4M675.1 199.8v10.4M669.9 205.0h10.4M675.6 199.8v10.4M670.4 205.0h10.4M676.1 199.8v10.4M670.9 205.0h10.4M676.6 199.8v10.4M671.4 205.0h10.4M677.0 199.8v10.4M671.8 205.0h10.4M677.5 199.8v10.4M672.3 205.0h10.4M678.0 199.8v10.4M672.8 205.0h10.4M678.5 199.8v10.4M673.3 205.0h10.4M679.0 199.8v10.4M673.8 205.0h10.4M679.5 199.8v10.4M674.3 205.0h10.4M680.0 199.8v10.4M674.8 205.0h10.4M680.5 199.8v10.4M675.3 205.0h10.4M681.0 199.8v10.4M675.8 205.0h10.4M681.5 199.8v10.4M676.3 205.0h10.4M682.0 199.8v10.4M676.8 205.0h10.4M682.5 199.8v10.4M677.3 205.0h10.4M683.0 199.8v10.4M677.8 205.0h10.4M683.5 199.8v10.4M678.3 205.0h10.4M684.0 199.8v10.4M678.8 205.0h10.4M684.5 199.8v10.4M679.3 205.0h10.4M685.0 199.8v10.4M679.8 205.0h10.4M685.5 199.8v10.4M680.3 205.0h10.4M686.0 199.8v10.4M680.8 205.0h10.4M686.5 199.9v10.4M681.3 205.1h10.4M687.0 199.9v10.4M681.8 205.1h10.4M687.5 199.9v10.4M682.3 205.1h10.4M688.0 199.9v10.4M682.8 205.1h10.4M688.4 199.9v10.4M683.2 205.1h10.4M688.9 199.9v10.4M683.7 205.1h10.4M689.4 199.9v10.4M684.2 205.1h10.4M689.9 199.9v10.4M684.7 205.1h10.4M690.4 199.9v10.4M685.2 205.1h10.4M690.9 199.9v10.4M685.7 205.1h10.4M691.4 199.9v10.4M686.2 205.1h10.4M691.9 199.9v10.4M686.7 205.1h10.4M692.4 199.9v10.4M687.2 205.1h10.4M692.9 199.9v10.4M687.7 205.1h10.4M693.4 199.9v10.4M688.2 205.1h10.4M693.9 199.9v10.4M688.7 205.1h10.4M700.2 200.0v10.4M695.0 205.2h10.4M718.6 203.2v10.4M713.4 208.4h10.4M723.6 203.2v10.4M718.4 208.4h10.4M726.4 203.2v10.4M721.2 208.4h10.4M744.7 203.2v10.4M739.5 208.4h10.4M753.9 203.3v10.4M748.7 208.5h10.4M765.0 203.3v10.4M759.8 208.5h10.4M766.1 203.3v10.4M760.9 208.5h10.4M766.6 203.3v10.4M761.4 208.5h10.4M767.1 203.3v10.4M761.9 208.5h10.4M767.6 203.3v10.4M762.4 208.5h10.4M768.1 203.3v10.4M762.9 208.5h10.4M768.6 203.3v10.4M763.4 208.5h10.4M769.1 203.3v10.4M763.9 208.5h10.4M769.6 203.3v10.4M764.4 208.5h10.4M770.1 203.3v10.4M764.9 208.5h10.4M770.6 203.3v10.4M765.4 208.5h10.4M771.1 203.3v10.4M765.9 208.5h10.4M771.5 203.3v10.4M766.3 208.5h10.4M772.0 203.3v10.4M766.8 208.5h10.4M772.5 203.3v10.4M767.3 208.5h10.4M773.0 203.3v10.4M767.8 208.5h10.4M773.5 203.3v10.4M768.3 208.5h10.4M774.0 203.3v10.4M768.8 208.5h10.4M774.5 203.3v10.4M769.3 208.5h10.4M775.0 203.3v10.4M769.8 208.5h10.4M775.5 203.3v10.4M770.3 208.5h10.4M776.0 203.3v10.4M770.8 208.5h10.4M776.5 203.3v10.4M771.3 208.5h10.4M777.0 203.3v10.4M771.8 208.5h10.4M777.5 203.3v10.4M772.3 208.5h10.4M778.0 203.3v10.4M772.8 208.5h10.4M778.5 203.3v10.4M773.3 208.5h10.4M779.0 203.3v10.4M773.8 208.5h10.4M779.5 203.3v10.4M774.3 208.5h10.4M780.0 203.3v10.4M774.8 208.5h10.4M780.5 203.3v10.4M775.3 208.5h10.4M781.0 203.3v10.4M775.8 208.5h10.4M781.4 203.3v10.4M776.2 208.5h10.4M781.9 203.3v10.4M776.7 208.5h10.4M782.4 203.3v10.4M777.2 208.5h10.4M782.9 203.3v10.4M777.7 208.5h10.4M783.4 203.3v10.4M778.2 208.5h10.4M783.9 203.3v10.4M778.7 208.5h10.4M784.4 203.3v10.4M779.2 208.5h10.4M784.9 203.3v10.4M779.7 208.5h10.4M785.4 203.3v10.4M780.2 208.5h10.4M785.9 203.3v10.4M780.7 208.5h10.4M786.4 203.3v10.4M781.2 208.5h10.4M788.6 203.3v10.4M783.4 208.5h10.4M792.2 203.3v10.4M787.0 208.5h10.4M834.4 203.3v10.4M829.2 208.5h10.4M845.0 203.3v10.4M839.8 208.5h10.4M857.8 203.3v10.4M852.6 208.5h10.4M860.0 203.3v10.4M854.8 208.5h10.4M866.7 203.3v10.4M861.5 208.5h10.4M869.4 203.3v10.4M864.2 208.5h10.4M871.1 203.3v10.4M865.9 208.5h10.4M873.3 203.3v10.4M868.1 208.5h10.4M875.0 203.3v10.4M869.8 208.5h10.4M876.7 203.3v10.4M871.5 208.5h10.4M879.6 203.4v10.4M874.4 208.6h10.4M959.7 203.4v10.4M954.5 208.6h10.4" fill="none" stroke="#4f5054" stroke-width="1.0"/>
<path d="M795.0 203.6v10.4M792.5 208.8h5.0M796.1 203.6v10.4M793.6 208.8h5.0M798.3 203.6v10.4M795.8 208.8h5.0M855.0 203.6v10.4M852.5 208.8h5.0M856.7 203.6v10.4M854.2 208.8h5.0M858.9 203.6v10.4M856.4 208.8h5.0M860.6 203.6v10.4M858.1 208.8h5.0M864.4 203.6v10.4M861.9 208.8h5.0M866.1 203.6v10.4M863.6 208.8h5.0M867.2 203.6v10.4M864.7 208.8h5.0M871.7 203.6v10.4M869.2 208.8h5.0" fill="none" stroke="#0c3f8f" stroke-width="0.9"/>
</g>
<text x="46.2" y="408.2" font-size="12.4" font-weight="bold" fill="#111">Number at Risk:</text>
<g font-size="12.4" fill="#2451a0"><text x="46.2" y="432.6" font-size="12.25" font-weight="bold">T-DXd</text>
<text x="125.0" y="432.6" text-anchor="middle" stroke="#2451a0" stroke-width="0.22">818</text>
<text x="156.1" y="432.6" text-anchor="middle" stroke="#2451a0" stroke-width="0.22">788</text>
<text x="187.2" y="432.6" text-anchor="middle" stroke="#2451a0" stroke-width="0.22">781</text>
<text x="218.3" y="432.6" text-anchor="middle" stroke="#2451a0" stroke-width="0.22">776</text>
<text x="249.4" y="432.6" text-anchor="middle" stroke="#2451a0" stroke-width="0.22">771</text>
<text x="280.6" y="432.6" text-anchor="middle" stroke="#2451a0" stroke-width="0.22">768</text>
<text x="311.7" y="432.6" text-anchor="middle" stroke="#2451a0" stroke-width="0.22">758</text>
<text x="342.8" y="432.6" text-anchor="middle" stroke="#2451a0" stroke-width="0.22">753</text>
<text x="373.9" y="432.6" text-anchor="middle" stroke="#2451a0" stroke-width="0.22">731</text>
<text x="405.0" y="432.6" text-anchor="middle" stroke="#2451a0" stroke-width="0.22">683</text>
<text x="436.1" y="432.6" text-anchor="middle" stroke="#2451a0" stroke-width="0.22">633</text>
<text x="467.2" y="432.6" text-anchor="middle" stroke="#2451a0" stroke-width="0.22">543</text>
<text x="498.3" y="432.6" text-anchor="middle" stroke="#2451a0" stroke-width="0.22">440</text>
<text x="529.4" y="432.6" text-anchor="middle" stroke="#2451a0" stroke-width="0.22">380</text>
<text x="560.6" y="432.6" text-anchor="middle" stroke="#2451a0" stroke-width="0.22">370</text>
<text x="591.7" y="432.6" text-anchor="middle" stroke="#2451a0" stroke-width="0.22">275</text>
<text x="622.8" y="432.6" text-anchor="middle" stroke="#2451a0" stroke-width="0.22">218</text>
<text x="653.9" y="432.6" text-anchor="middle" stroke="#2451a0" stroke-width="0.22">212</text>
<text x="685.0" y="432.6" text-anchor="middle" stroke="#2451a0" stroke-width="0.22">129</text>
<text x="716.1" y="432.6" text-anchor="middle" stroke="#2451a0" stroke-width="0.22">92</text>
<text x="747.2" y="432.6" text-anchor="middle" stroke="#2451a0" stroke-width="0.22">90</text>
<text x="778.3" y="432.6" text-anchor="middle" stroke="#2451a0" stroke-width="0.22">46</text>
<text x="809.4" y="432.6" text-anchor="middle" stroke="#2451a0" stroke-width="0.22">14</text>
<text x="840.6" y="432.6" text-anchor="middle" stroke="#2451a0" stroke-width="0.22">14</text>
<text x="871.7" y="432.6" text-anchor="middle" stroke="#2451a0" stroke-width="0.22">0</text>
<text x="902.8" y="432.6" text-anchor="middle" stroke="#2451a0" stroke-width="0.22">0</text>
<text x="933.9" y="432.6" text-anchor="middle" stroke="#2451a0" stroke-width="0.22">0</text>
<text x="965.0" y="432.6" text-anchor="middle" stroke="#2451a0" stroke-width="0.22">0</text>
</g>
<g font-size="12.4" fill="#555557"><text x="46.2" y="455" font-size="12.25" font-weight="bold">T-DM1</text>
<text x="125.0" y="455" text-anchor="middle" stroke="#555557" stroke-width="0.22">817</text>
<text x="156.1" y="455" text-anchor="middle" stroke="#555557" stroke-width="0.22">779</text>
<text x="187.2" y="455" text-anchor="middle" stroke="#555557" stroke-width="0.22">767</text>
<text x="218.3" y="455" text-anchor="middle" stroke="#555557" stroke-width="0.22">757</text>
<text x="249.4" y="455" text-anchor="middle" stroke="#555557" stroke-width="0.22">743</text>
<text x="280.6" y="455" text-anchor="middle" stroke="#555557" stroke-width="0.22">733</text>
<text x="311.7" y="455" text-anchor="middle" stroke="#555557" stroke-width="0.22">718</text>
<text x="342.8" y="455" text-anchor="middle" stroke="#555557" stroke-width="0.22">707</text>
<text x="373.9" y="455" text-anchor="middle" stroke="#555557" stroke-width="0.22">686</text>
<text x="405.0" y="455" text-anchor="middle" stroke="#555557" stroke-width="0.22">631</text>
<text x="436.1" y="455" text-anchor="middle" stroke="#555557" stroke-width="0.22">598</text>
<text x="467.2" y="455" text-anchor="middle" stroke="#555557" stroke-width="0.22">526</text>
<text x="498.3" y="455" text-anchor="middle" stroke="#555557" stroke-width="0.22">416</text>
<text x="529.4" y="455" text-anchor="middle" stroke="#555557" stroke-width="0.22">354</text>
<text x="560.6" y="455" text-anchor="middle" stroke="#555557" stroke-width="0.22">336</text>
<text x="591.7" y="455" text-anchor="middle" stroke="#555557" stroke-width="0.22">233</text>
<text x="622.8" y="455" text-anchor="middle" stroke="#555557" stroke-width="0.22">186</text>
<text x="653.9" y="455" text-anchor="middle" stroke="#555557" stroke-width="0.22">177</text>
<text x="685.0" y="455" text-anchor="middle" stroke="#555557" stroke-width="0.22">120</text>
<text x="716.1" y="455" text-anchor="middle" stroke="#555557" stroke-width="0.22">84</text>
<text x="747.2" y="455" text-anchor="middle" stroke="#555557" stroke-width="0.22">79</text>
<text x="778.3" y="455" text-anchor="middle" stroke="#555557" stroke-width="0.22">38</text>
<text x="809.4" y="455" text-anchor="middle" stroke="#555557" stroke-width="0.22">14</text>
<text x="840.6" y="455" text-anchor="middle" stroke="#555557" stroke-width="0.22">13</text>
<text x="871.7" y="455" text-anchor="middle" stroke="#555557" stroke-width="0.22">4</text>
<text x="902.8" y="455" text-anchor="middle" stroke="#555557" stroke-width="0.22">1</text>
<text x="933.9" y="455" text-anchor="middle" stroke="#555557" stroke-width="0.22">1</text>
<text x="965.0" y="455" text-anchor="middle" stroke="#555557" stroke-width="0.22">0</text>
</g>
</svg>
<div class="foot">DFS, disease-free survival; HR, hazard ratio; INV, investigator assessment; STEEP, Standardized Definitions for Efficacy End Points in adjuvant breast cancer trials; T-DM1, trastuzumab emtansine; T-DXd, trastuzumab deruxtecan.<br>Efficacy stopping boundary, <i>P</i> = 0.0144.<br><sup>a</sup>DFS defined as the time between randomization and the date of the first occurrence of an IDFS event per STEEP criteria, including second primary non-breast cancer event or contralateral or ipsilateral ductal carcinoma in situ. <sup>b</sup>Two-sided <i>P</i> value<br>from stratified log-rank test. Hazard ratio and 95% CI from stratified Cox proportional hazards model with stratification factor of operative status at disease presentation.</div>
</body></html>
